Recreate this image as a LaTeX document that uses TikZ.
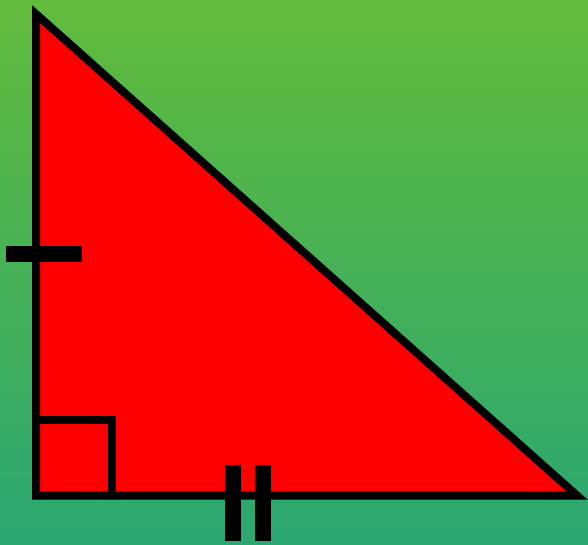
\documentclass[tikz,border=0pt]{standalone}
\usepackage{tikz}
\definecolor{bgtop}{RGB}{98,187,59}
\definecolor{bgbot}{RGB}{42,167,114}
\definecolor{trired}{RGB}{255,0,0}
\tikzset{
  edge/.style={draw=black,line width=8pt,miter limit=10},
  tickbar/.style={fill=black}
}

\begin{document}
\begin{tikzpicture}[x=1pt,y=-1pt]
  %% background
  \shade[top color=bgtop,bottom color=bgbot] (0,0) rectangle (588,544);
  \useasboundingbox (0,0) rectangle (588,544);

  %% triangle
  \coordinate (apex) at (36,14);
  \coordinate (corner) at (36,495.5);
  \coordinate (tip) at (577,495.5);
  \draw[edge,fill=trired] (apex) -- (corner) -- (tip) -- cycle;

  %% right angle mark
  \coordinate (ra1) at (36,419.5);
  \coordinate (ra2) at (112,419.5);
  \coordinate (ra3) at (112,495.5);
  \draw[edge] (ra1) -- (ra2) -- (ra3);

  %% single tick (left side)
  \fill[tickbar] (6,246) rectangle (82,262);

  %% double tick (bottom side)
  \fill[tickbar] (224.5,465) rectangle (240.5,541);
  \fill[tickbar] (255,465) rectangle (271,541);
\end{tikzpicture}
\end{document}
